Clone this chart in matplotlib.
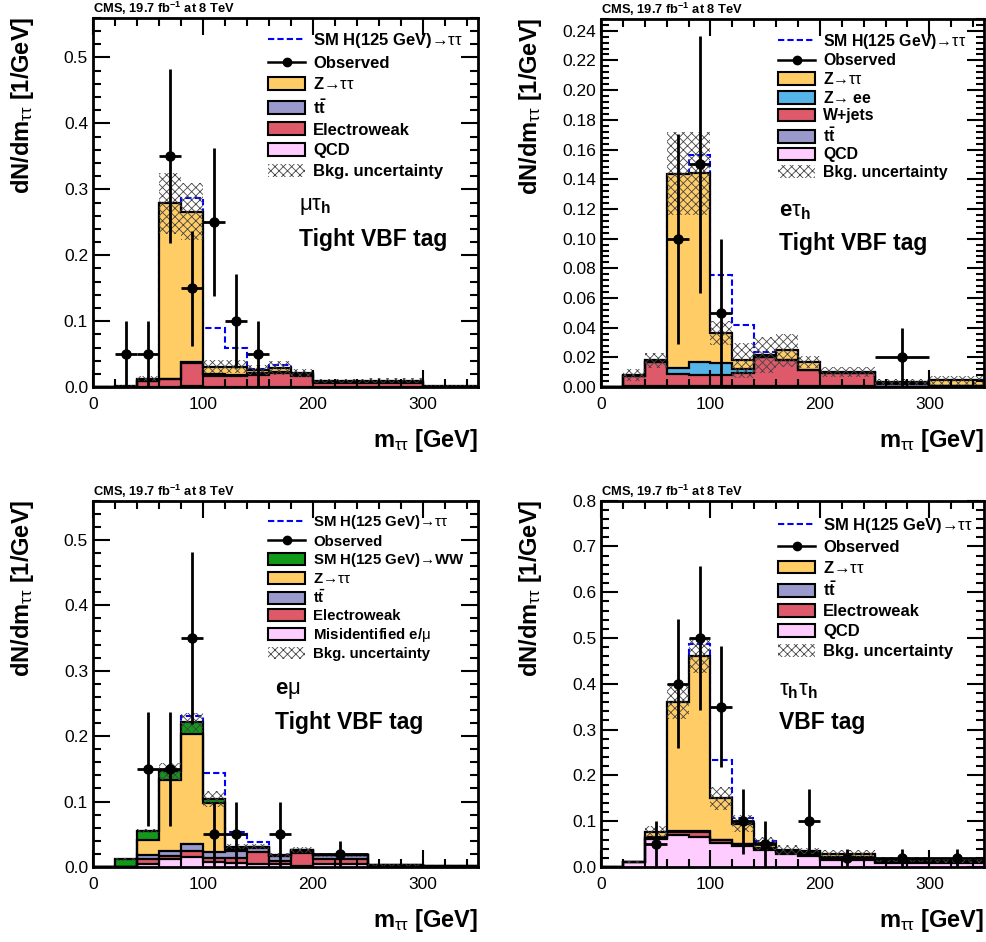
import numpy as np
import matplotlib
matplotlib.use("Agg")
import matplotlib.pyplot as plt
from matplotlib.patches import Patch
from matplotlib.lines import Line2D
from matplotlib.ticker import MultipleLocator, FormatStrFormatter

plt.rcParams['font.family'] = ['Liberation Sans', 'DejaVu Sans']
plt.rcParams['mathtext.fontset'] = 'custom'
plt.rcParams['mathtext.rm'] = 'Liberation Sans'
plt.rcParams['mathtext.it'] = 'Liberation Sans:italic'
plt.rcParams['mathtext.bf'] = 'Liberation Sans:bold'
plt.rcParams['mathtext.default'] = 'rm'
plt.rcParams['hatch.linewidth'] = 0.6

# bin edges in GeV
edges = [0, 20, 40, 60, 80, 100, 120, 140, 160, 180, 200, 250, 300, 350]

# ---- mu tau_h, tight VBF ----
mt_qcd = [0.0, 0.0, 0.001, 0.001, 0.002, 0.001, 0.001, 0.001, 0.001, 0.001, 0.001, 0.001, 0.0]
mt_ewk = [0.0, 0.001, 0.008, 0.011, 0.034, 0.016, 0.016, 0.018, 0.020, 0.016, 0.006, 0.006, 0.001]
mt_tt = [0.0, 0.0, 0.001, 0.001, 0.002, 0.003, 0.002, 0.002, 0.002, 0.001, 0.001, 0.001, 0.0]
mt_ztt = [0.001, 0.001, 0.003, 0.266, 0.228, 0.011, 0.012, 0.005, 0.006, 0.003, 0.001, 0.002, 0.001]
mt_sig = [0.0, 0.0, 0.0, 0.001, 0.021, 0.059, 0.029, 0.001, 0.004, 0.0, 0.0, 0.0, 0.0]
mt_unc = [0.001, 0.002, 0.004, 0.046, 0.043, 0.010, 0.010, 0.008, 0.010, 0.006, 0.003, 0.004, 0.001]
mt_x = [30, 50, 70, 90, 110, 130, 150]
mt_y = [0.05, 0.05, 0.35, 0.15, 0.25, 0.10, 0.05]
mt_err = [0.05, 0.05, 0.132, 0.087, 0.112, 0.071, 0.05]
mt_xerr = [10, 10, 10, 10, 10, 10, 10]

# ---- e tau_h, tight VBF ----
et_qcd = [0.0, 0.0, 0.0, 0.0, 0.0, 0.0, 0.0, 0.0, 0.0, 0.0, 0.0, 0.0, 0.0]
et_tt = [0.0, 0.0005, 0.001, 0.001, 0.001, 0.001, 0.001, 0.001, 0.001, 0.0005, 0.0005, 0.002, 0.001]
et_wj = [0.0, 0.007, 0.016, 0.0076, 0.007, 0.007, 0.0085, 0.0195, 0.017, 0.0108, 0.009, 0.0, 0.0]
et_zee = [0.0, 0.0, 0.0, 0.0042, 0.009, 0.008, 0.003, 0.0, 0.0, 0.0, 0.0, 0.0, 0.0]
et_ztt = [0.0, 0.0005, 0.001, 0.131, 0.127, 0.0205, 0.0055, 0.001, 0.0068, 0.0056, 0.0006, 0.0014, 0.0035]
et_sig = [0.0, 0.0, 0.0, 0.0, 0.012, 0.039, 0.0237, 0.0023, 0.0005, 0.0, 0.0, 0.0, 0.0]
et_unc = [0.0, 0.004, 0.005, 0.028, 0.028, 0.008, 0.012, 0.012, 0.011, 0.004, 0.0035, 0.002, 0.003]
et_x = [70, 90, 110, 275]
et_y = [0.10, 0.15, 0.05, 0.02]
et_err = [0.0707, 0.0866, 0.05, 0.02]
et_xerr = [10, 10, 10, 25]

# ---- e mu, tight VBF ----
em_fake = [0.0, 0.0005, 0.004, 0.013, 0.015, 0.007, 0.0066, 0.004, 0.004, 0.001, 0.005, 0.0, 0.0]
em_ewk = [0.0, 0.0, 0.008, 0.004, 0.010, 0.0065, 0.0065, 0.019, 0.005, 0.020, 0.008, 0.001, 0.0]
em_tt = [0.0, 0.0, 0.006, 0.007, 0.010, 0.0095, 0.012, 0.006, 0.008, 0.004, 0.005, 0.002, 0.001]
em_ztt = [0.0, 0.0, 0.023, 0.109, 0.168, 0.075, 0.003, 0.001, 0.0005, 0.0005, 0.0, 0.0, 0.0]
em_hww = [0.0, 0.011, 0.014, 0.013, 0.018, 0.006, 0.003, 0.001, 0.0005, 0.0005, 0.0, 0.0, 0.0]
em_sig = [0.0, 0.0, 0.0, 0.002, 0.010, 0.039, 0.023, 0.007, 0.001, 0.0, 0.0, 0.0, 0.0]
em_unc = [0.0, 0.002, 0.003, 0.013, 0.015, 0.012, 0.004, 0.004, 0.003, 0.004, 0.003, 0.002, 0.001]
em_x = [50, 70, 90, 110, 130, 170, 225]
em_y = [0.15, 0.15, 0.35, 0.05, 0.05, 0.05, 0.02]
em_err = [0.0866, 0.0866, 0.132, 0.05, 0.05, 0.05, 0.02]
em_xerr = [10, 10, 10, 10, 10, 10, 25]

# ---- tau_h tau_h, VBF ----
tt_qcd = [0.0, 0.010, 0.062, 0.069, 0.066, 0.052, 0.045, 0.038, 0.029, 0.023, 0.015, 0.009, 0.008]
tt_ewk = [0.0, 0.0, 0.002, 0.008, 0.011, 0.006, 0.005, 0.003, 0.003, 0.006, 0.005, 0.002, 0.002]
tt_tt = [0.0, 0.0, 0.001, 0.002, 0.002, 0.001, 0.001, 0.001, 0.001, 0.001, 0.002, 0.001, 0.001]
tt_ztt = [0.0, 0.001, 0.0115, 0.282, 0.382, 0.091, 0.044, 0.010, 0.005, 0.005, 0.007, 0.004, 0.003]
tt_sig = [0.0, 0.0, 0.0, 0.0, 0.025, 0.083, 0.013, 0.005, 0.0, 0.0, 0.0, 0.0, 0.0]
tt_unc = [0.0, 0.002, 0.012, 0.038, 0.038, 0.025, 0.018, 0.014, 0.011, 0.007, 0.009, 0.005, 0.006]
tt_x = [50, 70, 90, 110, 130, 150, 190, 225, 275, 325]
tt_y = [0.05, 0.40, 0.50, 0.35, 0.10, 0.05, 0.10, 0.02, 0.02, 0.02]
tt_err = [0.05, 0.141, 0.158, 0.132, 0.0707, 0.05, 0.0707, 0.02, 0.02, 0.02]
tt_xerr = [10, 10, 10, 10, 10, 10, 10, 25, 25, 25]

c_ztt = '#FFCC66'
c_tt = '#9999CC'
c_ewk = '#DE5A6A'
c_qcd = '#FFCCFF'
c_zee = '#55B4E8'
c_hww = '#11991A'
c_unc = '#444444'

lab_sig = r"SM H(125 GeV)$→\tau\tau$"
lab_ztt = r"Z$→\tau\tau$"
lab_tt = r"$\mathbf{t\bar{t}}$"


def draw_panel(ax, stack, sig, unc, dx, dy, derr, dxerr, ymax, ymaj, ymin, yfmt,
               legend_items, leg_pos, leg_fs, leg_sp, chan, tag, chan_pos):
    # stack: list of (values, colour) from bottom to top
    bottom = np.zeros(len(edges) - 1)
    for vals, col in stack:
        top = bottom + np.array(vals)
        ax.stairs(top, edges, baseline=bottom, fill=True, color=col, lw=0, zorder=1.5)
        ax.stairs(top, edges, baseline=None, color='k', lw=1.6, zorder=1.6)
        bottom = top
    total = bottom
    ax.stairs(total + np.array(sig), edges, baseline=None, color='#0000FF', lw=1.5,
              ls=(0, (3, 1.5)), zorder=1.4)
    u = np.array(unc)
    ax.stairs(total + u, edges, baseline=total - u, fill=True, facecolor='none',
              edgecolor=c_unc, hatch='xxxx', lw=0, zorder=1.7)
    ax.errorbar(dx, dy, yerr=derr, xerr=dxerr, fmt='o', color='k', ms=6.5,
                elinewidth=2, capsize=0, zorder=3)

    ax.set_xlim(0, 350)
    ax.set_ylim(0, ymax)
    ax.xaxis.set_major_locator(MultipleLocator(100))
    ax.xaxis.set_minor_locator(MultipleLocator(20))
    ax.yaxis.set_major_locator(MultipleLocator(ymaj))
    ax.yaxis.set_minor_locator(MultipleLocator(ymin))
    ax.yaxis.set_major_formatter(FormatStrFormatter(yfmt))
    ax.tick_params(which='both', direction='in', top=True, right=True, width=1.5,
                   labelsize=12.5)
    ax.tick_params(which='major', length=12)
    ax.tick_params(which='minor', length=6)
    ax.tick_params(axis='x', pad=7)
    ax.xaxis.set_zorder(5)
    ax.yaxis.set_zorder(5)
    for s in ax.spines.values():
        s.set_linewidth(2)
        s.set_zorder(6)

    ax.text(1.0, -0.145, r"m$_{\tau\tau}$ [GeV]", transform=ax.transAxes, ha='right',
            va='center', fontsize=17, fontweight='bold')
    ax.text(-0.184, 1.003, r"dN/dm$_{\tau\tau}$ [1/GeV]", transform=ax.transAxes,
            rotation=90, ha='center', va='top', fontsize=17, fontweight='bold')
    ax.text(0.0, 1.0125, r"CMS, 19.7 fb$^{\mathbf{-1}}$ at 8 TeV", transform=ax.transAxes,
            ha='left', va='baseline', fontsize=9.3, fontweight='bold')

    handles = []
    labels = []
    for kind, col, lab in legend_items:
        if kind == 'sig':
            h = Line2D([], [], color='#0000FF', ls=(0, (3, 1.5)), lw=1.5)
        elif kind == 'obs':
            h = Line2D([], [], color='k', marker='o', ms=6, lw=1.8)
        elif kind == 'unc':
            h = Patch(facecolor='white', edgecolor=c_unc, hatch='xxxx', lw=0)
        else:
            h = Patch(facecolor=col, edgecolor='k', lw=1.5)
        handles.append(h)
        labels.append(lab)
    fs_px = leg_fs * 100 / 72.0
    ax.legend(handles, labels, loc='upper left', bbox_to_anchor=leg_pos, frameon=False,
              prop={'weight': 'bold', 'size': leg_fs}, borderpad=0, borderaxespad=0,
              handlelength=37 / fs_px, handleheight=13.5 / fs_px,
              handletextpad=8 / fs_px, labelspacing=leg_sp)

    ax.text(chan_pos[0], chan_pos[1], chan, transform=ax.transAxes, fontsize=16,
            ha='left', va='center')
    ax.text(chan_pos[0], chan_pos[1] - 0.088, tag, transform=ax.transAxes, fontsize=16.5,
            fontweight='bold', ha='left', va='center')


fig = plt.figure(figsize=(9.87, 9.42), dpi=100)
ax1 = fig.add_axes([0.0942, 0.589, 0.390, 0.392])
ax2 = fig.add_axes([0.609, 0.589, 0.388, 0.391])
ax3 = fig.add_axes([0.0942, 0.0796, 0.390, 0.389])
ax4 = fig.add_axes([0.609, 0.0796, 0.388, 0.389])

draw_panel(ax1,
           [(mt_qcd, c_qcd), (mt_ewk, c_ewk), (mt_tt, c_tt), (mt_ztt, c_ztt)],
           mt_sig, mt_unc, mt_x, mt_y, mt_err, mt_xerr, 0.56, 0.1, 0.02, '%.1f',
           [('sig', None, lab_sig), ('obs', None, 'Observed'), ('box', c_ztt, lab_ztt),
            ('box', c_tt, lab_tt), ('box', c_ewk, 'Electroweak'), ('box', c_qcd, 'QCD'),
            ('unc', None, 'Bkg. uncertainty')],
           (0.455, 0.965), 12, 0.34, r"$\mu\tau_{\mathbf{h}}$", "Tight VBF tag",
           (0.535, 0.488))

draw_panel(ax2,
           [(et_qcd, c_qcd), (et_tt, c_tt), (et_wj, c_ewk), (et_zee, c_zee), (et_ztt, c_ztt)],
           et_sig, et_unc, et_x, et_y, et_err, et_xerr, 0.248, 0.02, 0.004, '%.2f',
           [('sig', None, lab_sig), ('obs', None, 'Observed'), ('box', c_ztt, lab_ztt),
            ('box', c_zee, r"Z$→$ ee"), ('box', c_ewk, 'W+jets'),
            ('box', c_tt, lab_tt), ('box', c_qcd, 'QCD'),
            ('unc', None, 'Bkg. uncertainty')],
           (0.462, 0.965), 11.4, 0.17, r"$\mathbf{e}\tau_{\mathbf{h}}$", "Tight VBF tag",
           (0.465, 0.478))

draw_panel(ax3,
           [(em_fake, c_qcd), (em_ewk, c_ewk), (em_tt, c_tt), (em_ztt, c_ztt), (em_hww, c_hww)],
           em_sig, em_unc, em_x, em_y, em_err, em_xerr, 0.56, 0.1, 0.02, '%.1f',
           [('sig', None, lab_sig), ('obs', None, 'Observed'),
            ('box', c_hww, r"SM H(125 GeV)$→$WW"), ('box', c_ztt, lab_ztt),
            ('box', c_tt, lab_tt), ('box', c_ewk, 'Electroweak'),
            ('box', c_qcd, r"Misidentified e/$\mu$"), ('unc', None, 'Bkg. uncertainty')],
           (0.455, 0.965), 10.8, 0.18, r"$\mathbf{e}\mu$", "Tight VBF tag",
           (0.472, 0.482))

draw_panel(ax4,
           [(tt_qcd, c_qcd), (tt_ewk, c_ewk), (tt_tt, c_tt), (tt_ztt, c_ztt)],
           tt_sig, tt_unc, tt_x, tt_y, tt_err, tt_xerr, 0.8, 0.1, 0.02, '%.1f',
           [('sig', None, lab_sig), ('obs', None, 'Observed'), ('box', c_ztt, lab_ztt),
            ('box', c_tt, lab_tt), ('box', c_ewk, 'Electroweak'), ('box', c_qcd, 'QCD'),
            ('unc', None, 'Bkg. uncertainty')],
           (0.462, 0.958), 12, 0.29, r"$\tau_{\mathbf{h}}\tau_{\mathbf{h}}$", "VBF tag",
           (0.465, 0.482))

plt.savefig("out.png", dpi=100)
